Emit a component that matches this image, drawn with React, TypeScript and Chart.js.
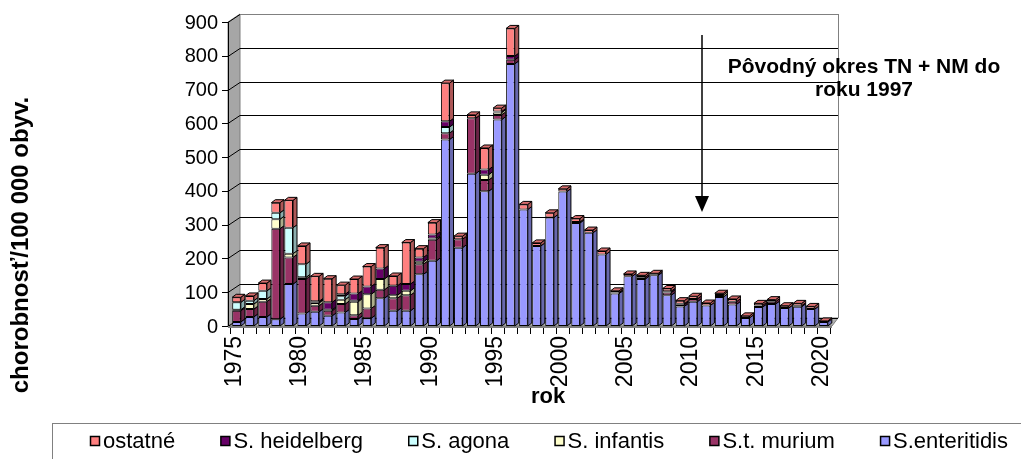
import React, { useEffect, useRef } from 'react';
import { Chart, registerables } from 'chart.js';
Chart.register(...registerables);

const years = [
  '1975','1976','1977','1978','1979','1980','1981','1982','1983','1984',
  '1985','1986','1987','1988','1989','1990','1991','1992','1993','1994',
  '1995','1996','1997','1998','1999','2000','2001','2002','2003','2004',
  '2005','2006','2007','2008','2009','2010','2011','2012','2013','2014',
  '2015','2016','2017','2018','2019','2020'
];
const enteritidis = [12,27,27,20,124,37,42,30,40,21, 23,82,45,45,153,193,552,232,451,399, 611,776,345,237,321,398,305,276,212,96, 147,139,150,91,58,72,61,86,64,24, 56,65,53,57,50,12];
const typhimurium = [33,23,45,268,79,102,18,15,25,11, 29,25,37,46,30,62,19,25,164,33, 14,12,0,0,0,0,3,0,0,3, 0,5,0,8,5,8,0,0,8,0, 5,7,0,3,0,0];
const infantis = [3,15,8,28,11,5,8,0,13,40, 42,32,9,13,7,4,0,0,0,16, 7,0,0,0,0,0,0,0,0,0, 0,0,0,0,0,0,0,6,0,0, 0,0,0,0,0,0];
const agona = [22,10,24,19,77,39,2,3,10,3, 0,0,0,0,0,0,18,0,0,0, 0,0,0,0,0,0,0,0,0,0, 0,0,0,0,0,0,0,0,0,0, 0,0,0,0,0,0];
const heidelberg = [0,0,0,0,0,0,3,22,6,21, 23,31,28,20,13,12,17,0,0,15, 3,11,0,0,0,0,0,0,0,0, 0,0,2,4,3,0,0,0,0,0, 0,0,0,0,0,0];
const ostatne = [15,14,23,30,81,54,74,70,27,43, 59,62,29,123,26,35,113,9,10,64, 10,82,15,9,14,8,10,8,10,5, 7,6,4,8,9,8,7,5,8,6, 6,6,7,7,8,3];

const yTicks = [0,100,200,300,400,500,600,700,800,900];
const seriesNames = ['S.enteritidis','S.t. murium','S. infantis','S. agona','S. heidelberg','ostatné'];
const seriesColors = ['#9999FF','#993366','#FFFFCC','#CCFFFF','#660066','#FF8080'];
const seriesData = [enteritidis, typhimurium, infantis, agona, heidelberg, ostatne];

const yTitle = 'chorobnosť/100 000 obyv.';
const xTitle = 'rok';
const noteLines = ['Pôvodný okres TN + NM do', 'roku 1997'];

const FONT = 'Arial, "Liberation Sans", sans-serif';

function shade(hex: string, f: number) {
  const n = parseInt(hex.slice(1), 16);
  const r = Math.round(((n >> 16) & 255) * f);
  const g = Math.round(((n >> 8) & 255) * f);
  const b = Math.round((n & 255) * f);
  return `rgb(${r},${g},${b})`;
}

const WDX = 12, WDY = 8; // wall depth offset
const BDX = 4, BDY = 3;  // bar depth offset

const wallPlugin = {
  id: 'walls',
  beforeDatasetsDraw(chart: any) {
    const ctx = chart.ctx;
    const ca = chart.chartArea;
    const ys = chart.scales.y;
    const L = ca.left - 2;
    const B = ys.getPixelForValue(0);
    const T = ys.getPixelForValue(900);
    const Rf = ca.right + 2;
    const Rb = Rf + 6;
    ctx.save();
    ctx.fillStyle = '#ffffff';
    ctx.fillRect(L + WDX, T - WDY, Rb - L - WDX, B - T);
    ctx.beginPath();
    ctx.moveTo(L, B); ctx.lineTo(L, T); ctx.lineTo(L + WDX, T - WDY); ctx.lineTo(L + WDX, B - WDY); ctx.closePath();
    ctx.fillStyle = '#a6a6a6'; ctx.fill();
    ctx.strokeStyle = '#7f7f7f'; ctx.lineWidth = 1; ctx.stroke();
    ctx.beginPath();
    ctx.moveTo(L, B); ctx.lineTo(L + WDX, B - WDY); ctx.lineTo(Rb, B - WDY); ctx.lineTo(Rf, B); ctx.closePath();
    ctx.fillStyle = '#b0b0b0'; ctx.fill();
    ctx.strokeStyle = '#7f7f7f'; ctx.stroke();
    yTicks.forEach((v) => {
      const y = Math.round(ys.getPixelForValue(v)) + 0.5;
      ctx.strokeStyle = v === 900 ? '#808080' : '#000000';
      ctx.lineWidth = 1;
      ctx.beginPath();
      ctx.moveTo(L + WDX, y - WDY); ctx.lineTo(Rb, y - WDY);
      ctx.stroke();
      ctx.strokeStyle = '#000000';
      ctx.beginPath();
      ctx.moveTo(L, y); ctx.lineTo(L + WDX, y - WDY);
      ctx.stroke();
      ctx.beginPath();
      ctx.moveTo(L - 6, y); ctx.lineTo(L, y);
      ctx.stroke();
    });
    ctx.strokeStyle = '#808080';
    ctx.beginPath();
    ctx.moveTo(Rb + 0.5, T - WDY); ctx.lineTo(Rb + 0.5, B - WDY);
    ctx.stroke();
    ctx.strokeStyle = '#000000';
    ctx.beginPath();
    ctx.moveTo(L + 0.5, T); ctx.lineTo(L + 0.5, B);
    ctx.stroke();
    const xs = chart.scales.x;
    ctx.strokeStyle = '#7f7f7f';
    ctx.lineWidth = 2;
    ctx.beginPath();
    ctx.moveTo(L, B + 1); ctx.lineTo(Rf, B + 1);
    ctx.stroke();
    ctx.lineWidth = 1;
    ctx.strokeStyle = '#000000';
    for (let i = 0; i <= years.length; i++) {
      const xp = i < years.length ? xs.getPixelForValue(i) - xs.width / years.length / 2 : xs.getPixelForValue(i - 1) + xs.width / years.length / 2;
      const xr = Math.round(xp) + 0.5;
      ctx.beginPath();
      ctx.moveTo(xr, B + 2); ctx.lineTo(xr, B + 8);
      ctx.stroke();
    }
    ctx.restore();
  },
  afterDatasetsDraw(chart: any) {
    const ctx = chart.ctx;
    const n = years.length;
    ctx.save();
    ctx.lineWidth = 1;
    ctx.strokeStyle = '#000000';
    for (let i = 0; i < n; i++) {
      let topDs = -1;
      chart.data.datasets.forEach((ds: any, d: number) => { if (ds.data[i] > 0) topDs = d; });
      chart.data.datasets.forEach((ds: any, d: number) => {
        const v = ds.data[i];
        if (!(v > 0)) return;
        const el = chart.getDatasetMeta(d).data[i];
        const p = el.getProps(['x', 'y', 'base', 'width'], true);
        const r = p.x + p.width / 2;
        const l = p.x - p.width / 2;
        const col = seriesColors[d];
        ctx.beginPath();
        ctx.moveTo(r, p.y); ctx.lineTo(r + BDX, p.y - BDY); ctx.lineTo(r + BDX, p.base - BDY); ctx.lineTo(r, p.base); ctx.closePath();
        ctx.fillStyle = shade(col, 0.68); ctx.fill(); ctx.stroke();
        if (d === topDs) {
          ctx.beginPath();
          ctx.moveTo(l, p.y); ctx.lineTo(l + BDX, p.y - BDY); ctx.lineTo(r + BDX, p.y - BDY); ctx.lineTo(r, p.y); ctx.closePath();
          ctx.fillStyle = shade(col, 0.85); ctx.fill(); ctx.stroke();
        }
      });
    }
    ctx.restore();
  },
  afterDraw(chart: any) {
    const ctx = chart.ctx;
    const ys = chart.scales.y;
    const xs = chart.scales.x;
    const ca = chart.chartArea;
    ctx.save();
    ctx.fillStyle = '#000000';
    ctx.font = `20px ${FONT}`;
    ctx.textAlign = 'right';
    ctx.textBaseline = 'middle';
    yTicks.forEach((v) => {
      ctx.fillText(String(v), ca.left - 12, ys.getPixelForValue(v) + 1);
    });
    ctx.font = `23px ${FONT}`;
    years.forEach((yr, i) => {
      if (Number(yr) % 5 !== 0) return;
      const x = xs.getPixelForValue(i);
      ctx.save();
      ctx.translate(x - 2, ys.getPixelForValue(0) + 10);
      ctx.rotate(-Math.PI / 2);
      ctx.textAlign = 'right';
      ctx.textBaseline = 'middle';
      ctx.fillText(yr, 0, 0);
      ctx.restore();
    });
    ctx.font = `bold 22px ${FONT}`;
    ctx.textAlign = 'center';
    ctx.textBaseline = 'middle';
    ctx.fillText(xTitle, 548, 397);
    ctx.save();
    ctx.translate(21, 245);
    ctx.rotate(-Math.PI / 2);
    ctx.font = `bold 24px ${FONT}`;
    ctx.fillText(yTitle, 0, 0);
    ctx.restore();
    ctx.font = `bold 21px ${FONT}`;
    ctx.fillText(noteLines[0], 864, 67);
    ctx.fillText(noteLines[1], 864, 90);
    ctx.strokeStyle = '#000000';
    ctx.lineWidth = 1.5;
    ctx.beginPath();
    ctx.moveTo(702, 35); ctx.lineTo(702, 198);
    ctx.stroke();
    ctx.beginPath();
    ctx.moveTo(695, 196); ctx.lineTo(709, 196); ctx.lineTo(702, 212); ctx.closePath();
    ctx.fill();
    ctx.lineWidth = 1;
    ctx.strokeStyle = '#808080';
    ctx.strokeRect(52.5, 423.5, 1021, 60);
    ctx.font = `22px ${FONT}`;
    ctx.textAlign = 'left';
    const order = [5, 4, 3, 2, 1, 0];
    const box = 10, gapT = 3;
    const widths = order.map((d) => box + gapT + ctx.measureText(seriesNames[d]).width);
    const startX = 90, endX = 1008;
    const total = widths.reduce((a, b) => a + b, 0);
    const gap = (endX - startX - total) / (order.length - 1);
    let xx = startX;
    const ly = 441;
    order.forEach((d, k) => {
      ctx.fillStyle = seriesColors[d];
      ctx.fillRect(xx + 0.5, ly - 5 + 0.5, box - 1, box - 1);
      ctx.strokeStyle = '#000000';
      ctx.lineWidth = 1.5;
      ctx.strokeRect(xx + 0.5, ly - 5 + 0.5, box - 1, box - 1);
      ctx.fillStyle = '#000000';
      ctx.fillText(seriesNames[d], xx + box + gapT, ly + 1);
      xx += widths[k] + gap;
    });
    ctx.restore();
  }
};

export default function App() {
  const ref = useRef<HTMLCanvasElement | null>(null);
  useEffect(() => {
    if (!ref.current) return;
    const chart = new Chart(ref.current, {
      type: 'bar',
      data: {
        labels: years,
        datasets: seriesData.map((arr, d) => ({
          label: seriesNames[d],
          data: arr,
          backgroundColor: seriesColors[d],
          borderColor: '#000000',
          borderWidth: 1,
          borderSkipped: false,
          barPercentage: 0.66,
          categoryPercentage: 1,
        })),
      },
      options: {
        responsive: false,
        animation: false,
        devicePixelRatio: 1,
        layout: { padding: { left: 230, right: 191, top: 22, bottom: 133 } },
        plugins: { legend: { display: false }, tooltip: { enabled: false }, title: { display: false } },
        scales: {
          x: { display: false, stacked: true },
          y: { display: false, stacked: true, min: 0, max: 900 },
        },
      },
      plugins: [wallPlugin],
    });
    return () => chart.destroy();
  }, []);
  return (
    <div style={{ position: 'fixed', left: 0, top: 0, width: 1021, height: 459, background: '#ffffff' }}>
      <canvas ref={ref} width={1021} height={459} style={{ display: 'block' }} />
    </div>
  );
}
